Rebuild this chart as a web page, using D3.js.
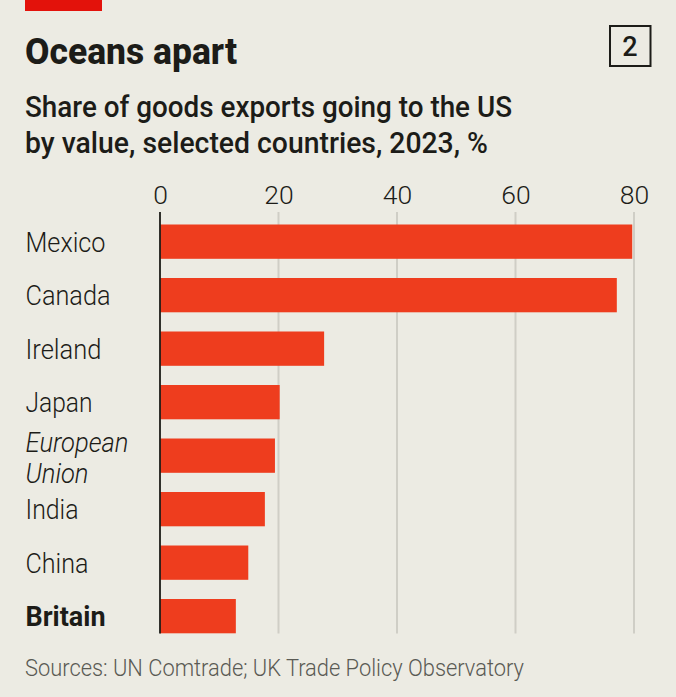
<!DOCTYPE html>
<html><head><meta charset="utf-8">
<script src="https://cdn.jsdelivr.net/npm/d3@7"></script>
<style>html,body{margin:0;padding:0;background:#ecebe3}svg{display:block}text{font-family:Roboto,sans-serif}</style>
</head><body><div id="c"></div>
<script>
const categories=["Mexico","Canada","Ireland","Japan","European Union","India","China","Britain"];
const values=[79.7,77.1,27.7,20.2,19.4,17.7,14.9,12.8];
const ticks=[0,20,40,60,80];
const W=676,H=697,INK="#1c1c18";
const fit={"Mexico":80,"Canada":85,"Ireland":76,"Japan":67,"European":103,"Union":63,"India":53,"China":63,"Britain":80};
const svg=d3.select("#c").append("svg").attr("width",W).attr("height",H);
svg.append("rect").attr("width",W).attr("height",H).attr("fill","#ecebe3");
svg.append("rect").attr("x",25).attr("y",0).attr("width",77).attr("height",11).attr("fill","#e3120b");
const x=d3.scaleLinear().domain([0,80]).range([160,634]);
const y=d3.scaleBand().domain(categories).range([224.5,633.3]).paddingInner(0.359).paddingOuter(0);
const txt=(s,px,py,size,w,len,fill)=>svg.append("text").attr("x",px).attr("y",py).attr("font-size",size).attr("font-weight",w).attr("fill",fill||INK).attr("textLength",len).attr("lengthAdjust","spacingAndGlyphs").text(s);
txt("Oceans apart",25,64,36.5,800,212);
txt("Share of goods exports going to the US",25,117,29,500,487);
txt("by value, selected countries, 2023, %",25,153,29,500,463);
svg.append("rect").attr("x",610).attr("y",26).attr("width",40.5).attr("height",40).attr("fill","none").attr("stroke",INK).attr("stroke-width",2);
svg.append("text").attr("x",630).attr("y",56).attr("text-anchor","middle").attr("font-size",27).attr("font-weight",500).attr("fill",INK).text("2");
const ax=d3.axisTop(x).tickValues(ticks).tickSize(0).tickPadding(0);
const g=svg.append("g").attr("transform","translate(0,204)").call(ax);
g.select(".domain").remove();
g.selectAll("text").attr("font-size",26.5).attr("font-family","Roboto").attr("font-weight",300).attr("fill",INK);
svg.append("g").selectAll("line").data(ticks.slice(1)).join("line").attr("x1",d=>x(d)).attr("x2",d=>x(d)).attr("y1",212).attr("y2",633.5).attr("stroke","#cfcec6").attr("stroke-width",2);
svg.append("g").selectAll("rect").data(values).join("rect").attr("x",x(0)).attr("y",(d,i)=>y(categories[i])).attr("width",d=>x(d)-x(0)).attr("height",y.bandwidth()).attr("fill","#ee3d1e");
svg.append("line").attr("x1",160).attr("x2",160).attr("y1",212).attr("y2",633.5).attr("stroke",INK).attr("stroke-width",1.8);
categories.forEach(c=>{
  const cy=y(c)+y.bandwidth()/2+10.2;
  if(c==="European Union"){
    txt("European",25.5,cy-14,28,300,fit["European"]).attr("font-style","italic");
    txt("Union",25.5,cy+17,28,300,fit["Union"]).attr("font-style","italic");
  } else txt(c,25.5,cy,28,c==="Britain"?700:300,fit[c]);
});
txt("Sources: UN Comtrade; UK Trade Policy Observatory",25,676,23.5,300,499,"#5a5a54");
</script></body></html>
